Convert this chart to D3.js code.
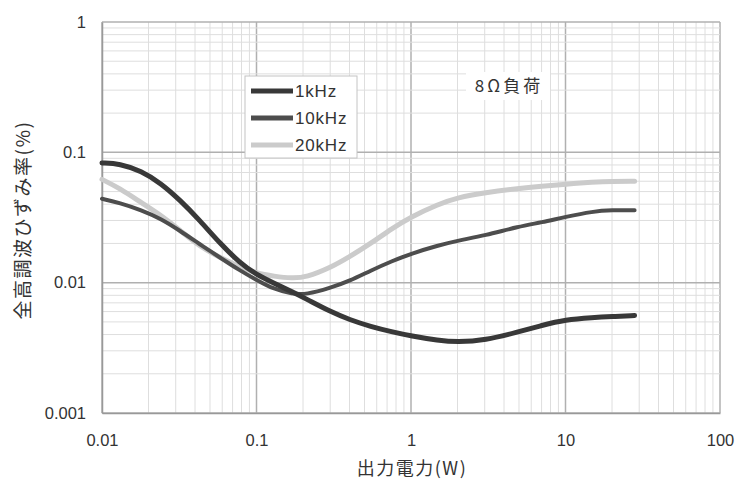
<!DOCTYPE html>
<html>
<head>
<meta charset="utf-8">
<script src="https://cdn.jsdelivr.net/npm/d3@7"></script>
<style>
  body { margin: 0; background: #fff; }
  text { font-family: "Liberation Sans", Arial, sans-serif; fill: #333; }
  .jp { font-family: "Noto Sans CJK JP", "Noto Sans", sans-serif; }
</style>
</head>
<body>
<div id="chart"></div>
<script>
// data (output power W vs THD %)
const powerW = [0.01, 0.013, 0.018, 0.024, 0.032, 0.043, 0.058, 0.078, 0.1, 0.13, 0.17, 0.21, 0.3, 0.4, 0.55, 0.75, 1, 1.5, 2, 3, 5, 7, 10, 15, 20, 28];
const thd1k  = [0.083, 0.082, 0.072, 0.058, 0.043, 0.030, 0.020, 0.0142, 0.0115, 0.0099, 0.0085, 0.0075, 0.0060, 0.0052, 0.0046, 0.0042, 0.0039, 0.0036, 0.0035, 0.0036, 0.0042, 0.0047, 0.0052, 0.0054, 0.0055, 0.0056];
const thd10k = [0.044, 0.041, 0.036, 0.031, 0.025, 0.0197, 0.0156, 0.0124, 0.0105, 0.0089, 0.0082, 0.0081, 0.0091, 0.0103, 0.0124, 0.0146, 0.0167, 0.0193, 0.021, 0.023, 0.027, 0.029, 0.032, 0.0352, 0.036, 0.036];
const thd20k = [0.062, 0.053, 0.041, 0.033, 0.0252, 0.0189, 0.0156, 0.0132, 0.0118, 0.0112, 0.0108, 0.0110, 0.0130, 0.0158, 0.020, 0.026, 0.032, 0.040, 0.045, 0.049, 0.053, 0.055, 0.057, 0.059, 0.060, 0.060];
const seriesNames = ["1kHz", "10kHz", "20kHz"];
const seriesColors = ["#383838", "#4d4d4d", "#cbcbcb"];
const xTicks = [0.01, 0.1, 1, 10, 100];
const yTicks = [0.001, 0.01, 0.1, 1];

const W = 744, H = 482;
const margin = { top: 22, right: 24, bottom: 69, left: 102 };
const width = W - margin.left - margin.right;
const height = H - margin.top - margin.bottom;

const svg = d3.select("#chart").append("svg")
    .attr("width", W)
    .attr("height", H);

const g = svg.append("g")
    .attr("transform", "translate(" + margin.left + "," + margin.top + ")");

const x = d3.scaleLog().domain([0.01, 100]).range([0, width]);
const y = d3.scaleLog().domain([0.001, 1]).range([height, 0]);

// grid: minor lines light, decades darker
const minorX = x.ticks(), minorY = y.ticks();
g.append("g").selectAll("line").data(minorX).enter().append("line")
    .attr("x1", d => x(d)).attr("x2", d => x(d))
    .attr("y1", 0).attr("y2", height)
    .attr("stroke", d => xTicks.includes(d) ? "#b0b0b0" : "#dedede")
    .attr("stroke-width", d => xTicks.includes(d) ? 1.5 : 1);
g.append("g").selectAll("line").data(minorY).enter().append("line")
    .attr("x1", 0).attr("x2", width)
    .attr("y1", d => y(d)).attr("y2", d => y(d))
    .attr("stroke", d => yTicks.includes(d) ? "#b0b0b0" : "#dedede")
    .attr("stroke-width", d => yTicks.includes(d) ? 1.5 : 1);

// axes
const xAxis = g.append("g")
    .attr("transform", "translate(0," + height + ")")
    .call(d3.axisBottom(x).tickValues(xTicks).tickFormat(d => d3.format("~g")(d)).tickSize(0).tickPadding(21));
const yAxis = g.append("g")
    .call(d3.axisLeft(y).tickValues(yTicks).tickFormat(d => d3.format("~g")(d)).tickSize(0).tickPadding(16));
[xAxis, yAxis].forEach(a => {
    a.select(".domain").attr("stroke", "#999").attr("stroke-width", 1.5);
    a.selectAll("text").style("font-size", "16.5px").attr("fill", "#333");
});

// curves
const allSeries = [thd1k, thd10k, thd20k];
const line = d3.line()
    .x(d => x(d[0]))
    .y(d => y(d[1]))
    .curve(d3.curveBasis);

[2, 1, 0].forEach(i => {
    g.append("path")
        .datum(powerW.map((p, j) => [p, allSeries[i][j]]))
        .attr("fill", "none")
        .attr("stroke", seriesColors[i])
        .attr("stroke-width", i === 1 ? 4 : 5)
        .attr("stroke-linecap", "round")
        .attr("d", line);
});

// legend
const leg = g.append("g").attr("transform", "translate(" + (245 - margin.left) + "," + (76 - margin.top) + ")");
leg.append("rect")
    .attr("width", 112).attr("height", 82)
    .attr("fill", "#fff").attr("stroke", "#c4c4c4");
seriesNames.forEach((name, i) => {
    const ly = 15 + i * 27;
    leg.append("line")
        .attr("x1", 6).attr("x2", 48)
        .attr("y1", ly).attr("y2", ly)
        .attr("stroke", seriesColors[i])
        .attr("stroke-width", 5);
    leg.append("text")
        .attr("x", 50).attr("y", ly + 6)
        .style("font-size", "17px")
        .style("letter-spacing", "0.8px")
        .text(name);
});

// load label
g.append("rect")
    .attr("x", 466 - margin.left).attr("y", 72 - margin.top)
    .attr("width", 84).attr("height", 28)
    .attr("fill", "#fff");
g.append("text")
    .attr("class", "jp")
    .attr("x", 509 - margin.left).attr("y", 92 - margin.top)
    .attr("text-anchor", "middle")
    .style("font-size", "17px")
    .style("letter-spacing", "3px")
    .text("8Ω負荷");

// axis titles
svg.append("text")
    .attr("class", "jp")
    .attr("x", margin.left + width / 2 + 1)
    .attr("y", 475)
    .attr("text-anchor", "middle")
    .style("font-size", "18px")
    .style("letter-spacing", "1.5px")
    .text("出力電力(W)");
svg.append("text")
    .attr("class", "jp")
    .attr("transform", "translate(30,220) rotate(-90)")
    .attr("text-anchor", "middle")
    .style("font-size", "19px")
    .style("letter-spacing", "1.5px")
    .text("全高調波ひずみ率(%)");
</script>
</body>
</html>
